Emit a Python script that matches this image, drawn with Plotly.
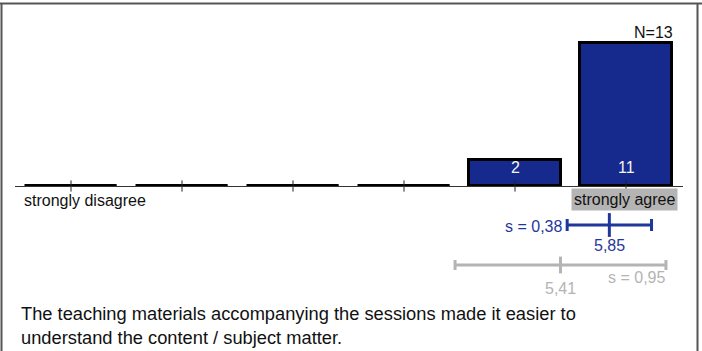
import plotly.graph_objects as go

# ---- data ----
categories = [1, 2, 3, 4, 5, 6]
counts = [0, 0, 0, 0, 2, 11]
n_total = 13
left_label = "strongly disagree"
right_label = "strongly agree"
mean_this = 5.85
sd_this = 0.38
mean_ref = 5.41
sd_ref = 0.95
mean_this_label = "5,85"
sd_this_label = "s = 0,38"
mean_ref_label = "5,41"
sd_ref_label = "s = 0,95"
question = "The teaching materials accompanying the sessions made it easier to<br>understand the content / subject matter."

# ---- style ----
W, H = 702, 351
BLUE = "#16298c"
STAT_BLUE = "#1f379c"
GRAY = "#b4b4b4"
FONT = "Arial, 'Liberation Sans', sans-serif"
BAR_W = 0.82
ML, MR = 15, 19
BASE_PX = 186
PX_PER_UNIT_Y = 13.0

def py(ypx):  # paper y from pixel y (top origin)
    return (H - ypx) / H

def px_(xpx):  # paper x from pixel x
    return (xpx - ML) / (W - ML - MR)

def y2(ypx):  # lower stats axis value from pixel y
    return H - ypx

fig = go.Figure()

# bars with count > 0
fig.add_trace(go.Bar(
    x=categories, y=counts, width=BAR_W,
    marker=dict(color=BLUE, line=dict(color="black", width=3)),
    cliponaxis=False, hoverinfo="skip", showlegend=False,
))

# zero-count categories drawn as flat outlines
zx, zy = [], []
for c, v in zip(categories, counts):
    if v == 0:
        zx += [c - BAR_W / 2, c + BAR_W / 2, None]
        zy += [0, 0, None]
fig.add_trace(go.Scatter(
    x=zx, y=zy, mode="lines", line=dict(color="black", width=3),
    cliponaxis=False, hoverinfo="skip", showlegend=False,
))

# category ticks
fig.add_trace(go.Scatter(
    x=categories, y=[0] * len(categories), mode="markers",
    marker=dict(symbol="line-ns", size=8, line=dict(color="#222", width=1)),
    cliponaxis=False, hoverinfo="skip", showlegend=False,
))

# stats: this course (blue) and comparison (gray)
fig.add_trace(go.Scatter(
    x=[mean_this], y=[y2(225)], xaxis="x", yaxis="y2", mode="markers",
    marker=dict(symbol="line-ns", size=17, line=dict(color=STAT_BLUE, width=3)),
    error_x=dict(type="data", array=[sd_this], thickness=3, width=6, color=STAT_BLUE),
    cliponaxis=False, hoverinfo="skip", showlegend=False,
))
fig.add_trace(go.Scatter(
    x=[mean_ref], y=[y2(265)], xaxis="x", yaxis="y2", mode="markers",
    marker=dict(symbol="line-ns", size=12, line=dict(color=GRAY, width=3)),
    error_x=dict(type="data", array=[sd_ref], thickness=3, width=5, color=GRAY),
    cliponaxis=False, hoverinfo="skip", showlegend=False,
))

ann = []
# bar counts
for c, v in zip(categories, counts):
    if v > 0:
        ann.append(dict(x=c, y=0, xref="x", yref="y", text=str(v), showarrow=False,
                        yanchor="middle", yshift=19,
                        font=dict(color="#f4f4f4", size=16, family=FONT)))
# N
ann.append(dict(x=categories[-1] + BAR_W / 2, y=py(32), xref="x", yref="paper",
                text=f"N={n_total}", showarrow=False, xanchor="right", yanchor="middle",
                xshift=3, font=dict(color="#111", size=16, family=FONT)))
# scale labels
ann.append(dict(x=categories[0] - BAR_W / 2, y=y2(200), xref="x", yref="y2",
                text=left_label, showarrow=False, xanchor="left", yanchor="middle",
                xshift=-3, font=dict(color="#111", size=16, family=FONT)))
ann.append(dict(x=categories[-1], y=y2(199), xref="x", yref="y2",
                text=right_label, showarrow=False, xanchor="center", yanchor="middle",
                xshift=-2, bgcolor=GRAY, borderpad=2,
                font=dict(color="#111", size=16, family=FONT)))
# stats labels
ann.append(dict(x=mean_this - sd_this, y=y2(226), xref="x", yref="y2",
                text=sd_this_label, showarrow=False, xanchor="right", yanchor="middle",
                xshift=-3, font=dict(color=STAT_BLUE, size=16, family=FONT)))
ann.append(dict(x=mean_this, y=y2(245), xref="x", yref="y2",
                text=mean_this_label, showarrow=False, xanchor="center", yanchor="middle",
                font=dict(color=STAT_BLUE, size=16, family=FONT)))
ann.append(dict(x=mean_ref + sd_ref, y=y2(277), xref="x", yref="y2",
                text=sd_ref_label, showarrow=False, xanchor="right", yanchor="middle",
                xshift=1, font=dict(color=GRAY, size=16, family=FONT)))
ann.append(dict(x=mean_ref, y=y2(288), xref="x", yref="y2",
                text=mean_ref_label, showarrow=False, xanchor="center", yanchor="middle",
                font=dict(color=GRAY, size=16, family=FONT)))
# question text
ann.append(dict(x=px_(19), y=y2(325), xref="paper", yref="y2",
                text=question, showarrow=False, xanchor="left", yanchor="middle",
                align="left", font=dict(color="#111", size=18.3, family=FONT)))

# frame
FRAME = "#555555"
shapes = [
    dict(type="line", xref="paper", yref="paper", x0=px_(0), x1=px_(W), y0=py(3.5), y1=py(3.5),
         line=dict(color=FRAME, width=2)),
    dict(type="line", xref="paper", yref="paper", x0=px_(1.5), x1=px_(1.5), y0=py(3), y1=py(H + 2),
         line=dict(color=FRAME, width=2)),
    dict(type="line", xref="paper", yref="paper", x0=px_(697.5), x1=px_(697.5), y0=py(3), y1=py(H + 2),
         line=dict(color=FRAME, width=2)),
]

xmin = categories[0] - (71 - ML) / 111.0
xmax = categories[-1] + (683 - 626) / 111.0
dom_split = (H - BASE_PX) / H

fig.update_layout(
    width=W, height=H,
    margin=dict(l=ML, r=MR, t=0, b=0),
    paper_bgcolor="white", plot_bgcolor="white",
    xaxis=dict(range=[xmin, xmax], showline=True, linecolor="#333", linewidth=1,
               showticklabels=False, ticks="", showgrid=False, zeroline=False, fixedrange=True),
    yaxis=dict(domain=[dom_split, 1], range=[0, BASE_PX / PX_PER_UNIT_Y], visible=False,
               fixedrange=True),
    yaxis2=dict(domain=[0, dom_split], range=[0, H - BASE_PX], anchor="x", visible=False,
                fixedrange=True),
    annotations=ann, shapes=shapes, showlegend=False, bargap=0,
    font=dict(family=FONT),
)

fig.write_html(
    "out.html",
    config={"displayModeBar": False},
    post_script="document.body.style.margin='0';document.body.style.overflow='hidden';",
)
